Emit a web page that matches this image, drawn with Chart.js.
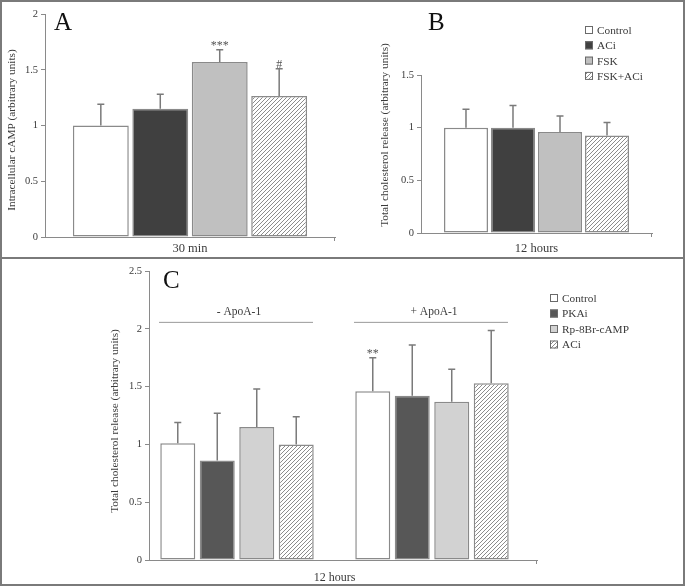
<!DOCTYPE html>
<html>
<head>
<meta charset="utf-8">
<title>cAMP and cholesterol release</title>
<script src="https://cdn.jsdelivr.net/npm/chart.js@4.4.0/dist/chart.umd.min.js"></script>
<style>
  html, body { margin: 0; padding: 0; background: #fff; }
  #fig { position: relative; width: 685px; height: 586px; overflow: hidden; }
  #fig canvas { position: absolute; }
  .frame { position: absolute; left: 0; top: 0; width: 681px; height: 582px; border: 2px solid #7a7a7a; }
  .divider { position: absolute; left: 0; top: 257px; width: 685px; height: 2px; background: #7a7a7a; }
</style>
</head>
<body>
<div id="fig">
  <canvas id="chartA" width="340" height="257" style="left:0;top:0"></canvas>
  <canvas id="chartB" width="345" height="257" style="left:340px;top:0"></canvas>
  <canvas id="chartC" width="685" height="327" style="left:0;top:259px"></canvas>
  <div class="frame"></div>
  <div class="divider"></div>
</div>
<script>
// ---- data ----
// panels A and B
const seriesAB = ['Control', 'ACi', 'FSK', 'FSK+ACi'];
const categoryA = ['30 min'];
const valuesA = [1.00, 1.15, 1.57, 1.265];
const errorsA = [0.19, 0.13, 0.11, 0.245];   // upper SD
const marksA = ['', '', '***', '#'];

const categoryB = ['12 hours'];
const valuesB = [1.00, 1.00, 0.96, 0.925];
const errorsB = [0.175, 0.21, 0.15, 0.125];
const marksB = ['', '', '', ''];

// panel C: two groups, four treatments
const seriesC = ['Control', 'PKAi', 'Rp-8Br-cAMP', 'ACi'];
const groupsC = ['- ApoA-1', '+ ApoA-1'];
const controlC = [1.01, 1.46];
const pkaiC = [0.86, 1.42];
const rpC = [1.15, 1.37];
const aciC = [1.00, 1.53];
const controlErrC = [0.18, 0.29];
const pkaiErrC = [0.41, 0.44];
const rpErrC = [0.33, 0.28];
const aciErrC = [0.24, 0.455];
const controlMarksC = ['', '**'];
const noMarksC = ['', ''];

// y ticks
const yMaxA = 2, yMaxB = 1.5, yMaxC = 2.5, yStep = 0.5;

// ---- styling ----
const SERIF = "'Liberation Serif', 'Times New Roman', serif";
const AXIS = '#8a8a8a';
const TEXT = '#3a3a3a';

function hatchPattern() {
  const c = document.createElement('canvas');
  c.width = 4; c.height = 4;
  const g = c.getContext('2d');
  g.fillStyle = '#fff';
  g.fillRect(0, 0, 4, 4);
  g.strokeStyle = '#8c8c8c';
  g.lineWidth = 1;
  g.beginPath();
  g.moveTo(0, 4); g.lineTo(4, 0);
  g.moveTo(-1, 1); g.lineTo(1, -1);
  g.moveTo(3, 5); g.lineTo(5, 3);
  g.stroke();
  return g.createPattern(c, 'repeat');
}
const hatch = hatchPattern();
const fillsAB = ['#ffffff', '#404040', '#c0c0c0', hatch];
const fillsC = ['#ffffff', '#575757', '#d2d2d2', hatch];

// draws error bars, significance marks, legend, titles, panel letter
const extras = {
  id: 'extras',
  afterDatasetsDraw(chart, args, o) {
    const ctx = chart.ctx;
    const ys = chart.scales.y;
    const xs = chart.scales.x;
    const area = chart.chartArea;
    ctx.save();

    // error bars + marks
    chart.data.datasets.forEach((ds, di) => {
      const meta = chart.getDatasetMeta(di);
      meta.data.forEach((bar, i) => {
        const raw = ds.data[i];
        const v = typeof raw === 'object' ? raw.y : raw;
        const top = ys.getPixelForValue(v + ds.errors[i]);
        const base = ys.getPixelForValue(v);
        ctx.strokeStyle = '#7a7a7a';
        ctx.lineWidth = 1.5;
        ctx.beginPath();
        ctx.moveTo(bar.x, base);
        ctx.lineTo(bar.x, top);
        ctx.moveTo(bar.x - 3.5, top);
        ctx.lineTo(bar.x + 3.5, top);
        ctx.stroke();
        if (ds.marks && ds.marks[i]) {
          ctx.fillStyle = '#555';
          ctx.font = '12px ' + SERIF;
          ctx.textAlign = 'center';
          ctx.textBaseline = 'alphabetic';
          ctx.fillText(ds.marks[i], bar.x, top - 1);
        }
      });
    });

    // small tick at the right end of the x axis
    ctx.strokeStyle = AXIS;
    ctx.lineWidth = 1;
    ctx.beginPath();
    ctx.moveTo(area.right - 0.5, area.bottom);
    ctx.lineTo(area.right - 0.5, area.bottom + 4);
    ctx.stroke();

    // panel letter
    ctx.fillStyle = '#111';
    ctx.font = '25px ' + SERIF;
    ctx.textAlign = 'left';
    ctx.textBaseline = 'alphabetic';
    ctx.fillText(o.letter, o.letterX, o.letterY);

    // rotated y title
    ctx.save();
    ctx.translate(o.titleX, o.titleY);
    ctx.rotate(-Math.PI / 2);
    ctx.fillStyle = TEXT;
    ctx.font = '11.3px ' + SERIF;
    ctx.textAlign = 'center';
    ctx.textBaseline = 'middle';
    ctx.fillText(o.title, 0, 0);
    ctx.restore();

    // legend
    if (o.legend) {
      chart.data.datasets.forEach((ds, di) => {
        const yy = o.legend.y + di * o.legend.dy;
        ctx.fillStyle = ds.backgroundColor;
        ctx.fillRect(o.legend.x, yy - 4, 8, 8);
        ctx.strokeStyle = '#6a6a6a';
        ctx.lineWidth = 1;
        ctx.strokeRect(o.legend.x + 0.5, yy - 3.5, 7, 7);
        ctx.fillStyle = TEXT;
        ctx.font = '11.3px ' + SERIF;
        ctx.textAlign = 'left';
        ctx.textBaseline = 'middle';
        ctx.fillText(ds.label, o.legend.x + 12, yy + 1);
      });
    }

    // group brackets (panel C)
    if (o.groups) {
      const lineY = ys.getPixelForValue(o.groups.at);
      o.groups.labels.forEach((lab, gi) => {
        const cx = xs.getPixelForValue(gi);
        ctx.strokeStyle = '#9a9a9a';
        ctx.lineWidth = 1;
        ctx.beginPath();
        ctx.moveTo(cx - 78, lineY + 0.5);
        ctx.lineTo(cx + 76, lineY + 0.5);
        ctx.stroke();
        ctx.fillStyle = TEXT;
        ctx.font = '11.5px ' + SERIF;
        ctx.textAlign = 'center';
        ctx.textBaseline = 'middle';
        ctx.fillText(lab, cx + 2, lineY - 10);
      });
      // x caption centred between the groups
      const mid = (xs.getPixelForValue(0) + xs.getPixelForValue(1)) / 2;
      ctx.font = '12px ' + SERIF;
      ctx.fillText(o.groups.caption, mid, area.bottom + 18);
    }
    ctx.restore();
  }
};

function yAxis(max, width) {
  return {
    min: 0,
    max: max,
    ticks: {
      stepSize: yStep,
      color: TEXT,
      font: { family: SERIF, size: 10.5 },
      padding: 3,
      callback: v => String(v)
    },
    grid: { drawOnChartArea: false, drawTicks: true, tickLength: 4, color: AXIS },
    border: { color: AXIS, width: 1 },
    afterFit(s) { s.width = width; }
  };
}

function categoryAxis(height, pad) {
  return {
    ticks: { color: TEXT, font: { family: SERIF, size: 12.5 }, padding: pad },
    grid: { display: false, drawTicks: false },
    border: { color: AXIS, width: 1 },
    afterFit(s) { s.height = height; }
  };
}

function barSet(label, data, errors, marks, fill, catPct, barPct) {
  return {
    label: label,
    data: data,
    errors: errors,
    marks: marks,
    backgroundColor: fill,
    borderColor: '#8a8a8a',
    borderWidth: 1.5,
    borderSkipped: false,
    categoryPercentage: catPct,
    barPercentage: barPct
  };
}

const common = {
  responsive: false,
  animation: false,
  devicePixelRatio: 1,
  events: []
};

// ---- panel A ----
new Chart(document.getElementById('chartA'), {
  type: 'bar',
  data: {
    labels: categoryA,
    datasets: seriesAB.map((s, i) =>
      barSet(s, [valuesA[i]], [errorsA[i]], [marksA[i]], fillsAB[i], 0.82, 0.94))
  },
  options: Object.assign({}, common, {
    layout: { padding: { left: 0, right: 5, top: 14, bottom: 0 } },
    scales: { x: categoryAxis(20, 4), y: yAxis(yMaxA, 45) },
    plugins: {
      legend: { display: false },
      tooltip: { enabled: false },
      extras: {
        letter: 'A', letterX: 54, letterY: 30,
        title: 'Intracellular cAMP (arbitrary units)', titleX: 12, titleY: 130
      }
    }
  }),
  plugins: [extras]
});

// ---- panel B ----
new Chart(document.getElementById('chartB'), {
  type: 'bar',
  data: {
    labels: categoryB,
    datasets: seriesAB.map((s, i) =>
      barSet(s, [valuesB[i]], [errorsB[i]], [marksB[i]], fillsAB[i], 0.814, 0.936))
  },
  options: Object.assign({}, common, {
    layout: { padding: { left: 0, right: 33, top: 75, bottom: 0 } },
    scales: { x: categoryAxis(24, 8), y: yAxis(yMaxB, 81) },
    plugins: {
      legend: { display: false },
      tooltip: { enabled: false },
      extras: {
        letter: 'B', letterX: 88, letterY: 30,
        title: 'Total cholesterol release (arbitrary units)', titleX: 45, titleY: 135,
        legend: { x: 245, y: 30, dy: 15.3 }
      }
    }
  }),
  plugins: [extras]
});

// ---- panel C ----
const cMeans = [controlC, pkaiC, rpC, aciC];
const cErrs = [controlErrC, pkaiErrC, rpErrC, aciErrC];
const cMarks = [controlMarksC, noMarksC, noMarksC, noMarksC];

new Chart(document.getElementById('chartC'), {
  type: 'bar',
  data: {
    datasets: seriesC.map((s, i) =>
      barSet(s, groupsC.map((g, gi) => ({ x: gi, y: cMeans[i][gi] })),
        cErrs[i], cMarks[i], fillsC[i], 0.81, 0.886))
  },
  options: Object.assign({}, common, {
    layout: { padding: { left: 0, right: 148, top: 12, bottom: 0 } },
    scales: {
      x: {
        type: 'linear',
        min: -0.4513,
        max: 1.5385,
        offset: false,
        ticks: { display: false },
        grid: { display: false, drawTicks: false },
        border: { color: AXIS, width: 1 },
        afterBuildTicks(s) { s.ticks = groupsC.map((g, gi) => ({ value: gi })); },
        afterFit(s) { s.height = 26; }
      },
      y: yAxis(yMaxC, 149)
    },
    plugins: {
      legend: { display: false },
      tooltip: { enabled: false },
      extras: {
        letter: 'C', letterX: 163, letterY: 29,
        title: 'Total cholesterol release (arbitrary units)', titleX: 115, titleY: 162,
        legend: { x: 550, y: 39, dy: 15.5 },
        groups: { labels: groupsC, at: 2.06, caption: '12 hours' }
      }
    }
  }),
  plugins: [extras]
});
</script>
</body>
</html>
